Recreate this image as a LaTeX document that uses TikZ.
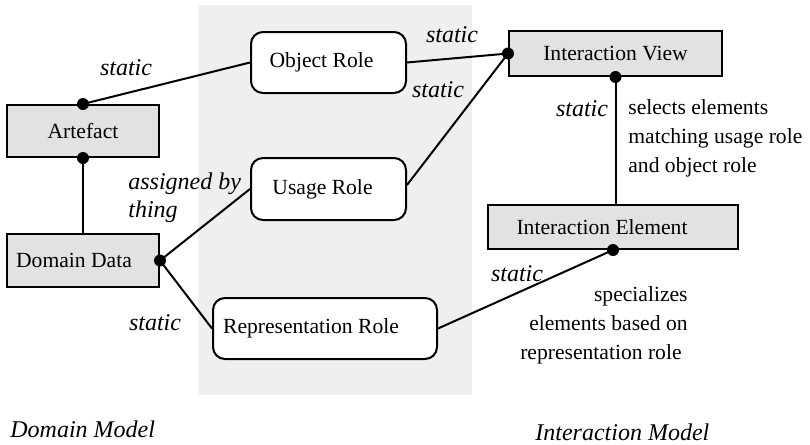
\documentclass[tikz,border=0pt]{standalone}
\usepackage{fontspec}
\setmainfont{Liberation Serif}
\begin{document}
\begin{tikzpicture}[x=0.5pt,y=-0.5pt,
  every node/.style={font=\fontsize{10.8}{14.5}\selectfont},
  graybox/.style={draw=black,line width=1pt,fill=boxgray,inner sep=0pt},
  rolebox/.style={draw=black,line width=1pt,fill=white,rounded corners=6pt,inner sep=0pt},
  conn/.style={line width=1pt},
  lbl/.style={font=\fontsize{12}{14}\selectfont\itshape,inner sep=0pt},
  note/.style={font=\fontsize{10.8}{14.5}\selectfont,inner sep=0pt},
  dot/.style={fill=black,radius=3pt}]
\definecolor{boxgray}{HTML}{E2E2E2}
\definecolor{bggray}{HTML}{EFEFEF}
\useasboundingbox (0,0) rectangle (810,445);
\fill[bggray] (198,5) rectangle (472,395);
% boxes
\node[graybox,minimum width=76pt,minimum height=26pt] (art) at (83,131) {Artefact};
\node[graybox,minimum width=76pt,minimum height=26.5pt] (dd) at (83,260.5) {Domain Data\hspace*{9pt}};
\node[rolebox,minimum width=77.5pt,minimum height=30.5pt] (obj) at (328.5,62.5) {Object Role\hspace*{7pt}};
\node[rolebox,minimum width=77.5pt,minimum height=31pt] (use) at (328.5,189) {Usage Role\hspace*{6pt}};
\node[rolebox,minimum width=112pt,minimum height=30.5pt] (rep) at (325,328.5) {Representation Role\hspace*{14pt}};
\node[graybox,minimum width=106.5pt,minimum height=22.5pt] (iv) at (615.5,53.5) {Interaction View};
\node[graybox,minimum width=125pt,minimum height=22pt] (ie) at (613,227) {Interaction Element\hspace*{11pt}};
% connectors
\draw[conn] (art.north) -- (obj.west);
\draw[conn] (art.south) -- (dd.north);
\draw[conn] (dd.east) -- (use.west);
\draw[conn] (dd.east) -- (rep.west);
\draw[conn] (obj.east) -- (iv.west);
\draw[conn] ([yshift=2pt]use.east) -- (iv.west);
\draw[conn] (iv.south) -- (iv.south |- ie.north);
\draw[conn] (ie.south) -- (rep.east);
% dots
\fill (art.north) circle[dot];
\fill (art.south) circle[dot];
\fill (dd.east) circle[dot];
\fill (iv.west) circle[dot];
\fill (iv.south) circle[dot];
\fill (ie.south) circle[dot];
% labels
\node[lbl] (l1) at (126,68) {static};
\node[lbl] (l2) at (452,35) {static};
\node[lbl] (l3) at (438,90) {static};
\node[lbl,align=left,anchor=west] (l4) at (128,198) {assigned by\\thing};
\node[lbl] (l5) at (155,323) {static};
\node[lbl] (l6) at (582,109) {static};
\node[lbl] (l7) at (517,274) {static};
\node[note,align=left,anchor=north west] (n1) at (628,99) {selects elements\\matching usage role\\and object role};
\node[note,align=right,anchor=north east] (n2) at (688,286) {specializes\\elements based on\hspace*{3pt}\\representation role\hspace*{3pt}};
\node[lbl,anchor=west] (m1) at (10,429) {Domain Model};
\node[lbl,anchor=west] (m2) at (535,432) {Interaction Model};
\end{tikzpicture}
\end{document}
